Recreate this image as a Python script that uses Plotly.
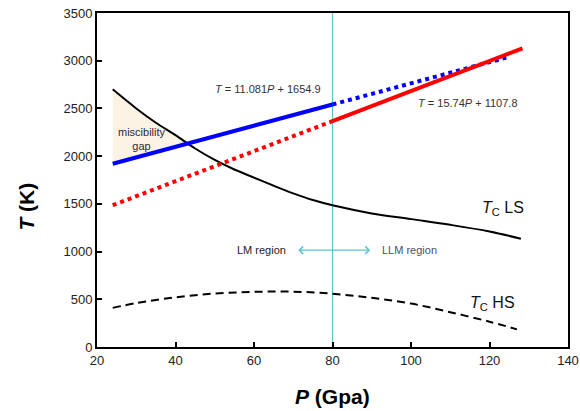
import numpy as np
import plotly.graph_objects as go

# ---- data ----
P_ls = [24, 30, 35, 40, 45, 50, 55, 60, 65, 70, 75, 80, 90, 100, 110, 120, 128]
T_ls = [2700, 2500, 2350, 2220, 2080, 1960, 1860, 1775, 1690, 1610, 1540, 1485, 1400, 1340, 1280, 1210, 1135]

P_hs = [24, 30, 40, 50, 60, 70, 80, 90, 100, 110, 120, 127]
T_hs = [410, 460, 520, 560, 578, 580, 558, 515, 455, 365, 265, 185]

# linear fits T = a*P + b
a_blue, b_blue = 11.081, 1654.9
a_red, b_red = 15.74, 1107.8
P_blue_solid = [24, 80]
P_blue_dot = [80, 125]
P_red_dot = [24, 80]
P_red_solid = [80, 128.4]
P_split = 80

x_ticks = [20, 40, 60, 80, 100, 120, 140]
y_ticks = [0, 500, 1000, 1500, 2000, 2500, 3000, 3500]

def lin(a, b, ps):
    return [a * p + b for p in ps]

# miscibility gap polygon: between black LS curve and blue line, up to their crossing
pg = np.linspace(P_ls[0], 60, 400)
tb = np.interp(pg, P_ls, T_ls)
tl = a_blue * pg + b_blue
mask = tb >= tl
pg_m = pg[mask]
gap_x = list(pg_m) + list(pg_m[::-1])
gap_y = list(np.interp(pg_m, P_ls, T_ls)) + list((a_blue * pg_m + b_blue)[::-1])

FONT = "Liberation Sans, Arial, sans-serif"

fig = go.Figure()
fig.add_trace(go.Scatter(x=gap_x, y=gap_y, fill="toself", mode="none",
                         fillcolor="rgba(252,243,228,1)", hoverinfo="skip"))
fig.add_trace(go.Scatter(x=P_ls, y=T_ls, mode="lines", line=dict(color="black", width=2), line_shape="spline"))
fig.add_trace(go.Scatter(x=P_hs, y=T_hs, mode="lines", line=dict(color="black", width=2, dash="8px,5px"), line_shape="spline"))
fig.add_trace(go.Scatter(x=P_red_dot, y=lin(a_red, b_red, P_red_dot), mode="lines",
                         line=dict(color="#ff0000", width=4, dash="4px,4px")))
fig.add_trace(go.Scatter(x=P_blue_dot, y=lin(a_blue, b_blue, P_blue_dot), mode="lines",
                         line=dict(color="#0000ff", width=4, dash="4px,4px")))
fig.add_trace(go.Scatter(x=P_blue_solid, y=lin(a_blue, b_blue, P_blue_solid), mode="lines",
                         line=dict(color="#0000ff", width=4)))
fig.add_trace(go.Scatter(x=P_red_solid, y=lin(a_red, b_red, P_red_solid), mode="lines",
                         line=dict(color="#ff0000", width=4)))

fig.add_shape(type="line", x0=P_split, x1=P_split, y0=0, y1=1, xref="x", yref="paper",
              line=dict(color="#5cc4cf", width=1.2), layer="below")

ann = [
    dict(x=63.6, y=2702, text="<i>T</i> = 11.081<i>P</i> + 1654.9", size=11, color="#333"),
    dict(x=114.6, y=2561, text="<i>T</i> = 15.74<i>P</i> + 1107.8", size=11, color="#333"),
    dict(x=31.5, y=2180, text="miscibility<br>gap", size=11, color="#2a2a3a"),
    dict(x=123.4, y=1456, text="<i>T</i><sub>C</sub> LS", size=16, color="#111"),
    dict(x=120.8, y=459, text="<i>T</i><sub>C</sub> HS", size=16, color="#111"),
    dict(x=61.9, y=1015, text="LM region", size=11, color="#222"),
    dict(x=99.7, y=1015, text="LLM region", size=11, color="#505060"),
]
for a in ann:
    fig.add_annotation(x=a["x"], y=a["y"], text=a["text"], showarrow=False,
                       font=dict(family=FONT, size=a["size"], color=a["color"]))

fig.add_annotation(x=89.6, y=1015, ax=70.9, ay=1015, xref="x", yref="y", axref="x", ayref="y",
                   text="", showarrow=True, arrowside="end+start", arrowhead=4, arrowsize=1.2,
                   arrowwidth=1.2, arrowcolor="#5cc4cf")

fig.add_annotation(xref="x domain", yref="y domain", x=-0.149, y=0.42, text="<b><i>T</i> (K)</b>",
                   xanchor="center", yanchor="middle",
                   showarrow=False, textangle=-90, font=dict(family=FONT, size=21, color="black"))
fig.add_annotation(xref="x domain", yref="y domain", x=0.5, y=-0.149, text="<b><i>P</i> (Gpa)</b>",
                   xanchor="center", yanchor="middle",
                   showarrow=False, font=dict(family=FONT, size=21, color="black"))

axis_common = dict(showgrid=False, zeroline=False, showline=True, linecolor="black", linewidth=2,
                   mirror=True, ticks="inside", ticklen=5, tickwidth=1.5, tickcolor="black",
                   automargin=False,
                   tickfont=dict(family=FONT, size=13, color="#222"))
fig.update_xaxes(range=[20, 140], tickvals=x_ticks, **axis_common)
fig.update_yaxes(range=[0, 3500], tickvals=y_ticks, **axis_common)

fig.update_layout(width=580, height=411, margin=dict(l=97, r=12, t=13, b=64, autoexpand=False),
                  plot_bgcolor="white", paper_bgcolor="white", showlegend=False)

fig.write_html("out.html")
